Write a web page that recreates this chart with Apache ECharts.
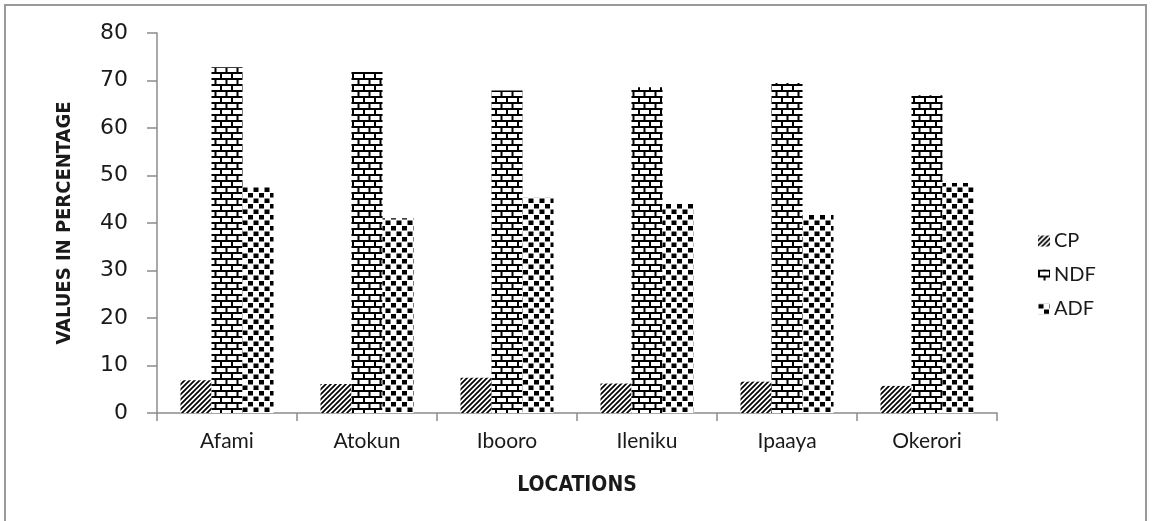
<!DOCTYPE html>
<html>
<head>
<meta charset="utf-8">
<script src="https://cdn.jsdelivr.net/npm/echarts@6/dist/echarts.min.js"></script>
<style>
  html, body { margin: 0; padding: 0; background: #fff; }
  #chart { width: 1152px; height: 521px; }
</style>
</head>
<body>
<div id="chart"></div>
<script>
// Forage quality by location (%)
const locations = ['Afami', 'Atokun', 'Ibooro', 'Ileniku', 'Ipaaya', 'Okerori'];
const seriesNames = ['CP', 'NDF', 'ADF'];
const cpValues  = [6.9, 6.1, 7.4, 6.2, 6.6, 5.7];
const ndfValues = [72.8, 71.8, 67.9, 68.6, 69.5, 66.9];
const adfValues = [47.6, 41.0, 45.3, 44.2, 41.9, 48.4];
const yTicks = [0, 10, 20, 30, 40, 50, 60, 70, 80];

// Black-and-white fill patterns drawn on small canvases
function makeCanvas(w, h) {
  const c = document.createElement('canvas');
  c.width = w; c.height = h;
  const ctx = c.getContext('2d');
  ctx.fillStyle = '#fff';
  ctx.fillRect(0, 0, w, h);
  return [c, ctx];
}

function hatchPattern() {
  const s = 5;
  const [c, ctx] = makeCanvas(s, s);
  ctx.strokeStyle = '#000';
  ctx.lineWidth = 1.7;
  ctx.beginPath();
  ctx.moveTo(-1, s + 1); ctx.lineTo(s + 1, -1);
  ctx.moveTo(-s / 2 - 1, s / 2 + 1); ctx.lineTo(s / 2 + 1, -s / 2 - 1);
  ctx.moveTo(s / 2 - 1, s * 1.5 + 1); ctx.lineTo(s * 1.5 + 1, s / 2 - 1);
  ctx.stroke();
  return c;
}

function brickPattern() {
  const w = 22, h = 12;
  const [c, ctx] = makeCanvas(w, h);
  ctx.fillStyle = '#000';
  // mortar rows
  ctx.fillRect(0, 0, w, 2);
  ctx.fillRect(0, 6, w, 2);
  // vertical joints, offset on alternate rows
  ctx.fillRect(0, 2, 2, 4);
  ctx.fillRect(11, 2, 2, 4);
  ctx.fillRect(5.5, 8, 2, 4);
  ctx.fillRect(16.5, 8, 2, 4);
  return c;
}

function checkPattern() {
  const w = 11, h = 11;
  const [c, ctx] = makeCanvas(w, h);
  ctx.fillStyle = '#000';
  ctx.fillRect(0.5, 0.5, 5, 4.5);
  ctx.fillRect(6, 6, 5, 4.5);
  return c;
}

const fills = [
  { image: hatchPattern(), repeat: 'repeat' },
  { image: brickPattern(), repeat: 'repeat' },
  { image: checkPattern(), repeat: 'repeat' }
];
const valueSets = [cpValues, ndfValues, adfValues];

const axisGrey = '#8c8c8c';
const textColor = '#1a1a1a';
const labelFont = 'Lato, Open Sans, sans-serif';
const titleFont = 'Liberation Sans Narrow, DejaVu Sans Condensed, sans-serif';

const chart = echarts.init(document.getElementById('chart'), null, { renderer: 'canvas' });

chart.setOption({
  animation: false,
  backgroundColor: '#fff',
  graphic: [{
    type: 'rect',
    shape: { x: 5, y: 5, width: 1141, height: 530 },
    style: { fill: 'none', stroke: '#9a9a9a', lineWidth: 2 },
    silent: true
  }],
  grid: { left: 157, right: 155, top: 33, bottom: 108 },
  legend: {
    orient: 'vertical',
    left: 1033,
    top: 226,
    itemGap: 14,
    itemWidth: 12,
    itemHeight: 11,
    icon: 'rect',
    data: seriesNames,
    textStyle: { fontFamily: labelFont, fontSize: 20, color: textColor, padding: [0, 0, 0, -1] }
  },
  xAxis: {
    type: 'category',
    data: locations,
    name: 'LOCATIONS',
    nameLocation: 'middle',
    nameGap: 62,
    nameTextStyle: { fontFamily: titleFont, fontWeight: 'bold', fontSize: 21, color: textColor },
    axisLine: { lineStyle: { color: axisGrey, width: 1.5 } },
    axisTick: { show: true, length: 8, lineStyle: { color: axisGrey, width: 1.5 } },
    axisLabel: { margin: 18, fontFamily: labelFont, fontSize: 21, color: textColor }
  },
  yAxis: {
    type: 'value',
    min: yTicks[0],
    max: yTicks[yTicks.length - 1],
    interval: 10,
    name: 'VALUES IN PERCENTAGE',
    nameLocation: 'middle',
    nameGap: 82,
    nameRotate: 90,
    nameTextStyle: { fontFamily: titleFont, fontWeight: 'bold', fontSize: 20, color: textColor },
    axisLine: { show: true, lineStyle: { color: axisGrey, width: 1.5 } },
    axisTick: { show: true, length: 10, lineStyle: { color: axisGrey, width: 1.5 } },
    axisLabel: { margin: 29, fontFamily: 'DejaVu Sans, Verdana, sans-serif', fontSize: 22, color: textColor },
    splitLine: { show: false }
  },
  series: seriesNames.map((name, i) => ({
    name: name,
    type: 'bar',
    data: valueSets[i],
    barWidth: 31,
    barGap: '0%',
    itemStyle: { color: fills[i] }
  }))
});
</script>
</body>
</html>
